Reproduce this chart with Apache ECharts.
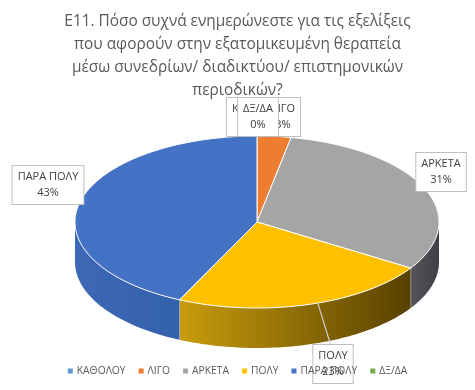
<!DOCTYPE html>
<html><head><meta charset="utf-8">
<script src="https://cdn.jsdelivr.net/npm/echarts@6/dist/echarts.min.js"></script>
<style>html,body{margin:0;padding:0;background:#fff}#c{width:475px;height:390px}</style>
</head><body><div id="c"></div>
<script>
const categories = ['ΚΑΘΟΛΟΥ','ΛΙΓΟ','ΑΡΚΕΤΑ','ΠΟΛΥ','ΠΑΡΑ ΠΟΛΥ','ΔΞ/ΔΑ'];
const values = [0,3,31,23,43,0];
const colors = ['#5B9BD5','#ED7D31','#A5A5A5','#FFC000','#4472C4','#70AD47'];
const wallColors = [['#4A80B8','#3A6A9A'],['#C0621F','#9A4E18'],['#55555B','#3E3E44'],['#C89C0C','#574100'],['#3C68B6','#3461AC'],['#5A8C38','#4A7530']];
const titleText = 'Ε11. Πόσο συχνά ενημερώνεστε για τις εξελίξεις\nπου αφορούν στην εξατομικευμένη θεραπεία\nμέσω συνεδρίων/ διαδικτύου/ επιστημονικών\nπεριοδικών?';
const labelPos = [[258,117],[283,117],[441,172],[333,364],[48,185],[258,117]];

const cx = 257, cy = 222, rx = 182, ry = 86, depth = 40;
const FONT = '"Open Sans", sans-serif';
const total = values.reduce((a, b) => a + b, 0);
function angles(i) {
  let s = 0;
  for (let k = 0; k < i; k++) s += values[k];
  return [s / total * 2 * Math.PI, (s + values[i]) / total * 2 * Math.PI];
}
function pt(t, dy) { return [cx + rx * Math.sin(t), cy - ry * Math.cos(t) + (dy || 0)]; }
function arcPts(a, b, dy) {
  const n = Math.max(2, Math.ceil((b - a) / 0.02));
  const r = [];
  for (let k = 0; k <= n; k++) r.push(pt(a + (b - a) * k / n, dy));
  return r;
}

const data = values.map((v, i) => ({ name: categories[i], value: v, itemStyle: { color: colors[i] } }));

const chart = echarts.init(document.getElementById('c'), null, { renderer: 'canvas' });
chart.setOption({
  animation: false,
  backgroundColor: '#fff',
  title: {
    text: titleText, left: 'center', top: 5,
    textStyle: { fontFamily: FONT, fontSize: 15.4, fontWeight: 'normal', color: '#595959', lineHeight: 23 }
  },
  legend: {
    data: categories, bottom: 9, left: 'center', icon: 'rect', itemWidth: 5, itemHeight: 5, itemGap: 13, z: 20, zlevel: 1,
    textStyle: { fontFamily: FONT, fontSize: 10.3, color: '#595959', padding: [0, 0, 0, -1] }
  },
  series: [
    {
      type: 'pie', radius: [0, 0], center: [cx, cy], data: data, silent: true,
      label: { show: false }, labelLine: { show: false }, z: 0
    },
    {
      type: 'custom', coordinateSystem: 'none', z: 1, silent: true, data: data,
      renderItem: function (params, api) {
        const i = params.dataIndex;
        const [a, b] = angles(i);
        const lo = Math.max(a, Math.PI / 2), hi = Math.min(b, 3 * Math.PI / 2);
        if (hi <= lo) return { type: 'group', children: [] };
        const top = arcPts(lo, hi, 0), bot = arcPts(lo, hi, depth).reverse();
        const x0 = pt(lo)[0], x1 = pt(hi)[0];
        const children = [{
          type: 'polygon', shape: { points: top.concat(bot) },
          style: { fill: new echarts.graphic.LinearGradient(x1, 0, x0, 0, [{ offset: 0, color: wallColors[i][0] }, { offset: 1, color: wallColors[i][1] }], true) }
        }];
        if (b < 3 * Math.PI / 2 && b > Math.PI / 2) {
          const p = pt(b);
          children.push({ type: 'line', shape: { x1: p[0], y1: p[1], x2: p[0], y2: p[1] + depth }, style: { stroke: 'rgba(255,255,255,0.8)', lineWidth: 1 } });
        }
        return { type: 'group', children: children };
      }
    },
    {
      type: 'custom', coordinateSystem: 'none', z: 2, silent: true, data: data,
      renderItem: function (params, api) {
        const i = params.dataIndex;
        const [a, b] = angles(i);
        if (b - a <= 0) return { type: 'group', children: [] };
        const pts = [[cx, cy]].concat(arcPts(a, b, 0));
        return { type: 'polygon', shape: { points: pts }, style: { fill: colors[i], stroke: '#fff', lineWidth: 1 } };
      }
    },
    {
      type: 'custom', coordinateSystem: 'none', z: 3, silent: true, data: data,
      renderItem: function (params, api) {
        const i = params.dataIndex;
        const pct = Math.round(api.value(0) / total * 100) + '%';
        const children = [];
        if (i === 3) {
          const [a, b] = angles(i);
          const p = pt(a + (b - a) * 0.46, 0);
          children.push({ type: 'line', shape: { x1: p[0], y1: p[1], x2: labelPos[i][0] - 2, y2: labelPos[i][1] - 18 }, style: { stroke: '#D0D0D0', lineWidth: 1.2 } });
        }
        children.push({
          type: 'text', x: labelPos[i][0], y: labelPos[i][1],
          style: {
            text: categories[i] + '\n' + pct, fill: '#404040', font: '11px ' + FONT,
            align: 'center', verticalAlign: 'middle', lineHeight: 16,
            backgroundColor: '#fff', borderColor: '#BFBFBF', borderWidth: 1, padding: [3, 5]
          }
        });
        return { type: 'group', children: children };
      }
    }
  ]
});
</script>
</body></html>
